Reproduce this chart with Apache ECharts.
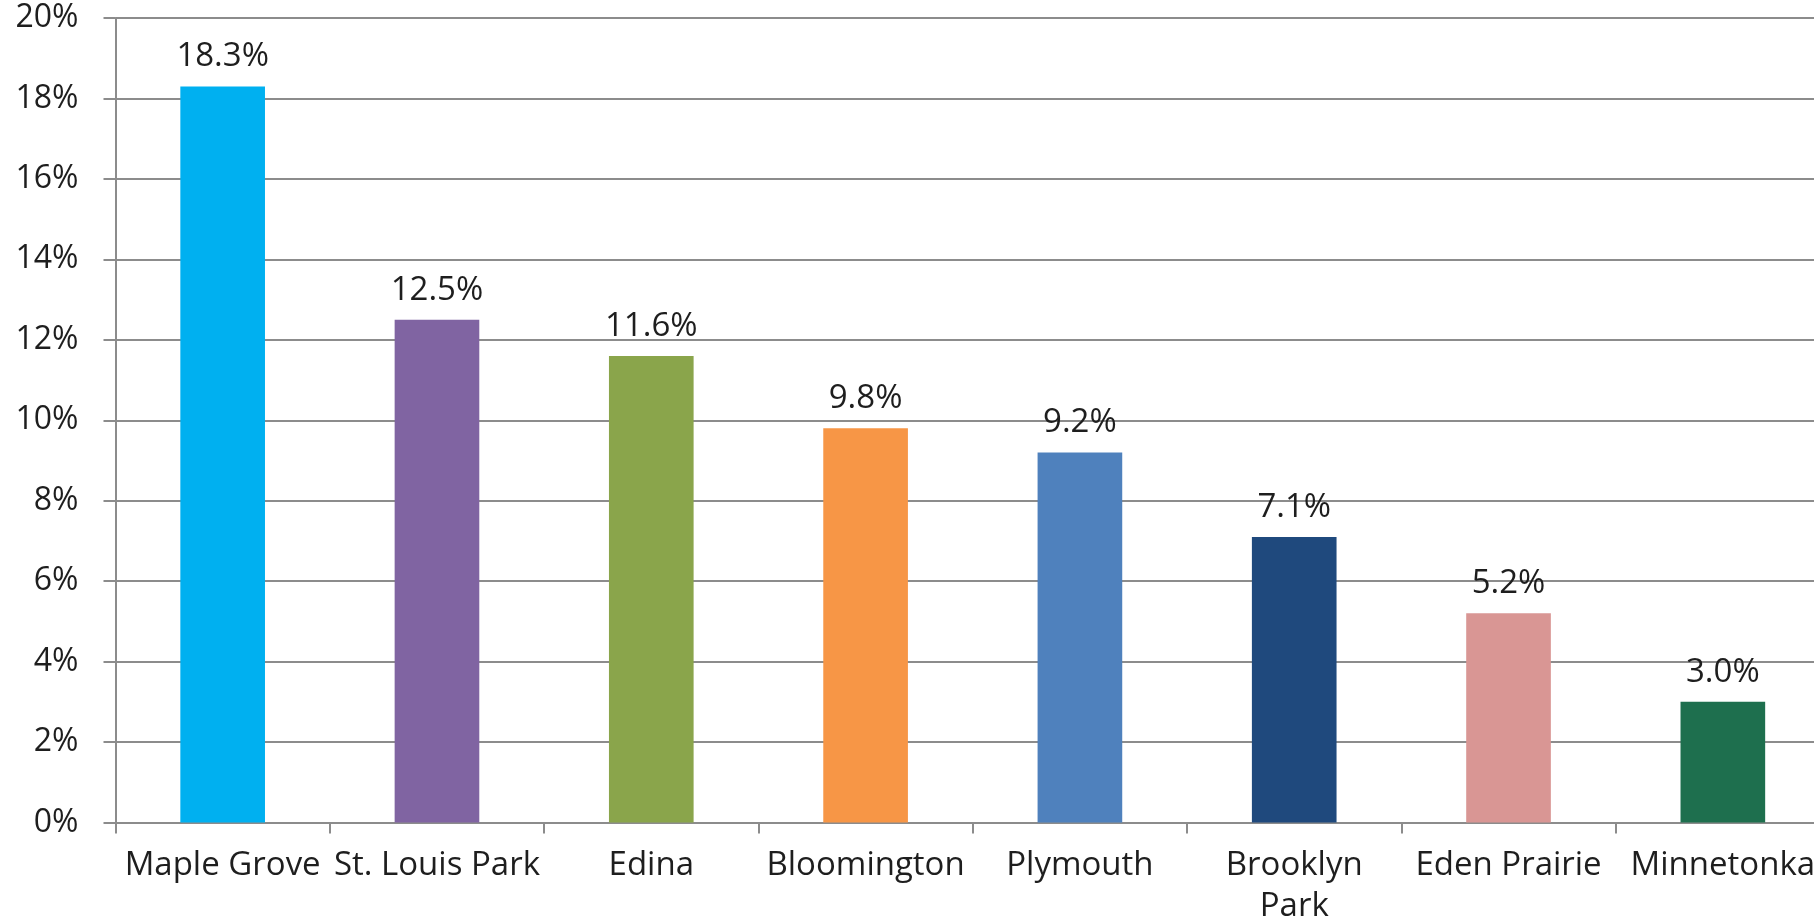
<!DOCTYPE html>
<html>
<head>
<meta charset="utf-8">
<style>
html,body{margin:0;padding:0;background:#fff;overflow:hidden;}
#chart{width:1814px;height:919px;}
</style>
<script src="https://cdn.jsdelivr.net/npm/echarts@6/dist/echarts.min.js"></script>
</head>
<body>
<div id="chart"></div>
<script>
const categories = ['Maple Grove', 'St. Louis Park', 'Edina', 'Bloomington', 'Plymouth', 'Brooklyn\nPark', 'Eden Prairie', 'Minnetonka'];
const values = [18.3, 12.5, 11.6, 9.8, 9.2, 7.1, 5.2, 3.0];
const barColors = ['#00b0f0', '#8064a2', '#8aa54b', '#f79646', '#4f81bd', '#1f497d', '#d99694', '#1e6f4e'];
const yTicks = [0, 2, 4, 6, 8, 10, 12, 14, 16, 18, 20];

const FONT = 'Open Sans';
const TEXT = '#1e1e1e';
const GRID = '#8c8c8c';

const chart = echarts.init(document.getElementById('chart'), null, {renderer: 'canvas'});
chart.setOption({
  animation: false,
  backgroundColor: '#ffffff',
  grid: {left: 115.5, top: 18, right: -16, bottom: 96.5, containLabel: false, outerBoundsMode: 'none'},
  xAxis: {
    type: 'category',
    data: categories,
    axisLine: {show: true, lineStyle: {color: GRID, width: 2}},
    axisTick: {show: true, alignWithLabel: false, length: 11, lineStyle: {color: GRID, width: 2}},
    axisLabel: {
      interval: 0, hideOverlap: false, margin: 23,
      fontFamily: FONT, fontSize: 33, color: TEXT, lineHeight: 41
    }
  },
  yAxis: {
    type: 'value',
    min: yTicks[0], max: yTicks[yTicks.length - 1], interval: 2,
    axisLine: {show: true, lineStyle: {color: GRID, width: 2}},
    axisTick: {show: true, length: 12, lineStyle: {color: GRID, width: 2}},
    splitLine: {show: true, lineStyle: {color: GRID, width: 2}},
    axisLabel: {
      margin: 37, fontFamily: FONT, fontSize: 32, color: TEXT,
      formatter: v => v + '%'
    }
  },
  series: [{
    type: 'bar',
    barWidth: '39.5%',
    data: values.map((v, i) => ({value: v, itemStyle: {color: barColors[i]}})),
    label: {
      show: true, position: 'top', distance: 13,
      fontFamily: FONT, fontSize: 33, color: TEXT,
      formatter: p => p.value.toFixed(1) + '%'
    }
  }]
});
</script>
</body>
</html>
